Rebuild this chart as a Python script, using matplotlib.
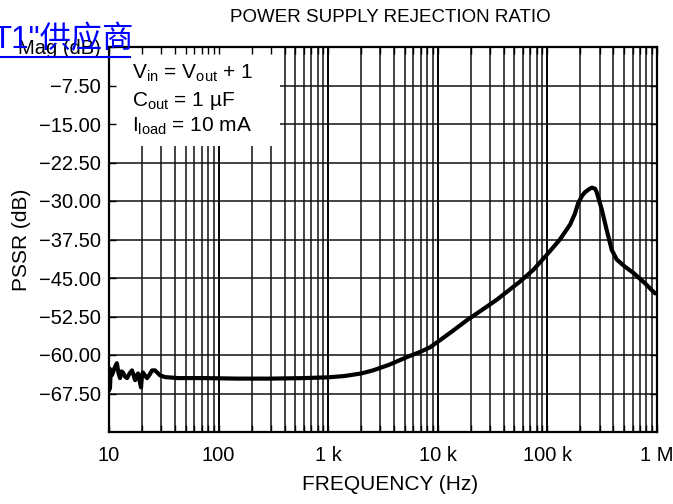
import matplotlib
matplotlib.use("Agg")
import matplotlib.pyplot as plt
from matplotlib.patches import Rectangle
from matplotlib.lines import Line2D

plt.rcParams['font.family'] = ['Liberation Sans', 'DejaVu Sans']
plt.rcParams['mathtext.default'] = 'regular'

# ---- data ----
freq_hz = [10, 10.1, 10.2, 10.35, 10.65, 11.2, 11.8, 12.2, 12.6, 13.0, 13.4, 14.0, 14.6,
           15.4, 16.2, 16.8, 17.3, 17.9, 18.4, 19.0, 19.6, 20.0, 20.4, 21.3, 22.2,
           23.5, 24.7, 26.3, 29.2, 32.4, 42.6, 75, 150, 300, 600, 1000, 1400, 2000,
           2560, 3600, 5240, 6900, 8500, 10500, 13700, 18500, 25400, 34700, 56200,
           74500, 98600, 130000, 161000, 178000, 191000, 207000, 220000, 240000,
           254000, 272000, 282000, 313000, 347000, 386000, 429000, 510000, 608000,
           775000, 959000]
pssr_db = [-66.9, -62.6, -66.5, -63.5, -63.9, -62.6, -61.6, -63.5, -64.5, -63.2, -63.4,
           -64.2, -64.5, -63.6, -63.0, -64.0, -64.9, -64.0, -63.6, -65.0, -66.3, -64.0,
           -63.4, -64.0, -64.5, -63.8, -63.0, -63.0, -63.95, -64.3, -64.5, -64.5, -64.6,
           -64.6, -64.5, -64.35, -64.1, -63.6, -63.0, -61.9, -60.4, -59.4, -58.5,
           -57.1, -55.3, -53.2, -51.2, -49.2, -45.7, -43.4, -40.5, -37.5, -34.6, -32.5,
           -30.4, -29.0, -28.3, -27.7, -27.4, -27.6, -28.3, -31.6, -35.6, -39.5, -41.4,
           -42.8, -44.0, -46.0, -48.0]

y_ticks = [0, -7.5, -15, -22.5, -30, -37.5, -45, -52.5, -60, -67.5]
y_labels = ['Mag (dB)', '\u22127.50', '\u221215.00', '\u221222.50', '\u221230.00',
            '\u221237.50', '\u221245.00', '\u221252.50', '\u221260.00', '\u221267.50']
x_ticks = [10, 100, 1000, 10000, 100000, 1000000]
x_labels = ['10', '100', '1 k', '10 k', '100 k', '1 M']

W, H = 673, 504
fig = plt.figure(figsize=(W / 100, H / 100), dpi=100)
L, R, T, B = 109, 657, 47, 432
ax = fig.add_axes([L / W, 1 - B / H, (R - L) / W, (B - T) / H])

ax.set_xscale('log')
ax.set_xlim(10, 1e6)
ax.set_ylim(-75, 0)

# grid (manual, so the info box can hide it)
minor_pos = [m * 10 ** d for d in range(1, 6) for m in range(2, 10)]
ax.vlines(minor_pos, -75, 0, colors='#111111', linewidth=1.1, zorder=0.5)
ax.vlines(x_ticks, -75, 0, colors='#000000', linewidth=1.4, zorder=0.5)
ax.hlines(y_ticks[1:], 10, 1e6, colors='#111111', linewidth=1.1, zorder=0.5)

# info box
ax.add_patch(Rectangle((0, 1 - 99 / 385), 171 / 548, 99 / 385, transform=ax.transAxes,
                       facecolor='white', edgecolor='none', zorder=1))
for txt, yb in [(r'V$_{in}$ = V$_{out}$ + 1', 79), (r'C$_{out}$ = 1 µF', 106),
                (r'I$_{load}$ = 10 mA', 132)]:
    ax.text(23 / 548, (B - yb) / 385, txt, transform=ax.transAxes, fontsize=15,
            va='baseline', ha='left', zorder=3)

ax.plot(freq_hz, pssr_db, color='black', linewidth=3.0, zorder=2,
        solid_joinstyle='round', solid_capstyle='round')

ax.set_xticks(x_ticks)
ax.set_xticklabels(x_labels)
ax.xaxis.set_minor_locator(matplotlib.ticker.FixedLocator(minor_pos))
ax.xaxis.set_minor_formatter(matplotlib.ticker.NullFormatter())
ax.set_yticks(y_ticks)
ax.set_yticklabels(y_labels)
ax.tick_params(axis='both', which='both', direction='in', top=True, right=True,
               length=5, width=1.0, labelsize=14.5, pad=6)
ax.tick_params(axis='x', pad=10)
for s in ax.spines.values():
    s.set_linewidth(1.6)

fig.text(390 / W, 1 - 18 / H, 'POWER SUPPLY REJECTION RATIO', ha='center', va='center',
         fontsize=13.5)
fig.text(390 / W, 1 - 485 / H, 'FREQUENCY (Hz)', ha='center', va='center', fontsize=15)
fig.text(22 / W, 1 - 240 / H, 'PSSR (dB)', ha='center', va='center', rotation=90,
         fontsize=15)

# watermark link text
fig.text(-8 / W, 1 - 48 / H, 'T1"供应商', ha='left', va='baseline', fontsize=22.5,
         color='#0000ff', family=['Liberation Sans', 'Noto Sans CJK SC'])
fig.add_artist(Line2D([0, 130 / W], [1 - 57 / H, 1 - 57 / H], color='#0000ff',
                      linewidth=1.5, transform=fig.transFigure))

fig.savefig('out.png', dpi=100)
